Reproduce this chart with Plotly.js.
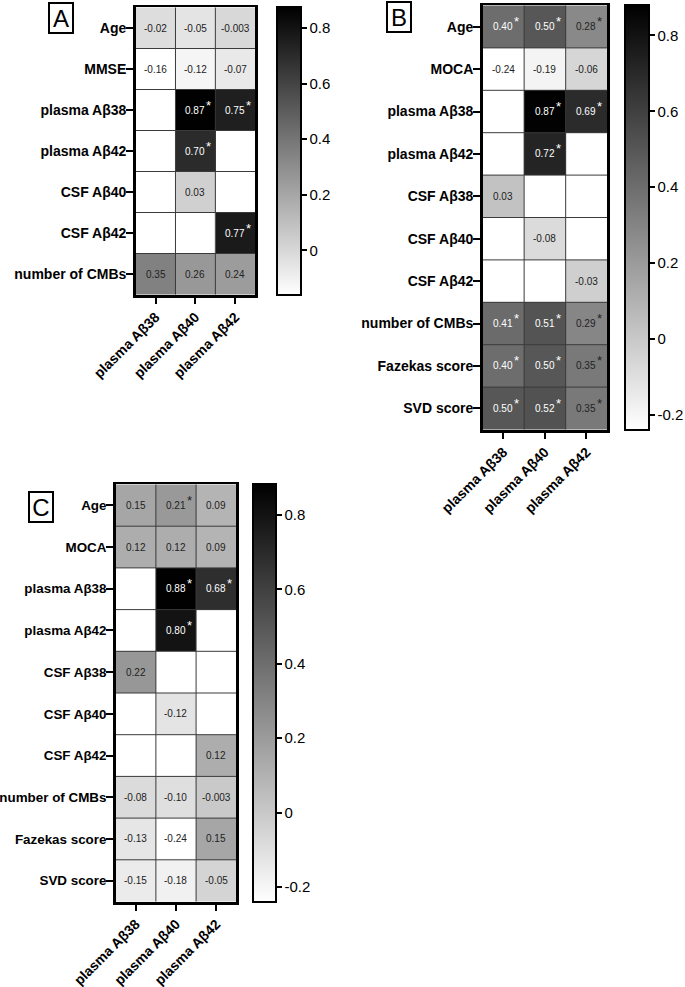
<!DOCTYPE html>
<html>
<head>
<meta charset="utf-8">
<script src="https://cdn.plot.ly/plotly-3.0.1.min.js"></script>
<style>html,body{margin:0;padding:0;background:#fff;}#chart{width:685px;height:987px;}</style>
</head>
<body>
<div id="chart"></div>
<script>
// ---------- data ----------
const columns = ["plasma Aβ38", "plasma Aβ40", "plasma Aβ42"];

const rowsA = ["Age", "MMSE", "plasma Aβ38", "plasma Aβ42", "CSF Aβ40", "CSF Aβ42", "number of CMBs"];
const valuesA = [
  [-0.02, -0.05, -0.003],
  [-0.16, -0.12, -0.07],
  [null, 0.87, 0.75],
  [null, 0.70, null],
  [null, 0.03, null],
  [null, null, 0.77],
  [0.35, 0.26, 0.24]
];
const sigA = [
  [0, 0, 0],
  [0, 0, 0],
  [0, 1, 1],
  [0, 1, 0],
  [0, 0, 0],
  [0, 0, 1],
  [0, 0, 0]
];

const rowsB = ["Age", "MOCA", "plasma Aβ38", "plasma Aβ42", "CSF Aβ38", "CSF Aβ40", "CSF Aβ42", "number of CMBs", "Fazekas score", "SVD score"];
const valuesB = [
  [0.40, 0.50, 0.28],
  [-0.24, -0.19, -0.06],
  [null, 0.87, 0.69],
  [null, 0.72, null],
  [0.03, null, null],
  [null, -0.08, null],
  [null, null, -0.03],
  [0.41, 0.51, 0.29],
  [0.40, 0.50, 0.35],
  [0.50, 0.52, 0.35]
];
const sigB = [
  [1, 1, 1],
  [0, 0, 0],
  [0, 1, 1],
  [0, 1, 0],
  [0, 0, 0],
  [0, 0, 0],
  [0, 0, 0],
  [1, 1, 1],
  [1, 1, 1],
  [1, 1, 1]
];

const rowsC = ["Age", "MOCA", "plasma Aβ38", "plasma Aβ42", "CSF Aβ38", "CSF Aβ40", "CSF Aβ42", "number of CMBs", "Fazekas score", "SVD score"];
const valuesC = [
  [0.15, 0.21, 0.09],
  [0.12, 0.12, 0.09],
  [null, 0.88, 0.68],
  [null, 0.80, null],
  [0.22, null, null],
  [null, -0.12, null],
  [null, null, 0.12],
  [-0.08, -0.10, -0.003],
  [-0.13, -0.24, 0.15],
  [-0.15, -0.18, -0.05]
];
const sigC = [
  [0, 1, 0],
  [0, 0, 0],
  [0, 1, 1],
  [0, 1, 0],
  [0, 0, 0],
  [0, 0, 0],
  [0, 0, 0],
  [0, 0, 0],
  [0, 0, 0],
  [0, 0, 0]
];

const colorTicks = [-0.2, 0, 0.2, 0.4, 0.6, 0.8];
const colorTickText = ["-0.2", "0", "0.2", "0.4", "0.6", "0.8"];

// ---------- layout helpers ----------
const W = 685, H = 987;
const px = v => v / W;
const py = v => 1 - v / H;
const FONT = "Arial, 'Liberation Sans', sans-serif";

const panels = [
  {rows: rowsA, vals: valuesA, sig: sigA, zmin: -0.16, zmax: 0.875, yfs: 14,
   x0: 136, x1: 256, y0: 7, y1: 295, cbx: 278, cbth: 24, label: "A", lx: 61.5, ly: 18},
  {rows: rowsB, vals: valuesB, sig: sigB, zmin: -0.24, zmax: 0.88, yfs: 14,
   x0: 484, x1: 609, y0: 5, y1: 430, cbx: 627, cbth: 24, label: "B", lx: 400.5, ly: 17.5},
  {rows: rowsC, vals: valuesC, sig: sigC, zmin: -0.24, zmax: 0.883, yfs: 13.4,
   x0: 116, x1: 237, y0: 484, y1: 902, cbx: 254, cbth: 23, label: "C", lx: 41, ly: 507}
];

function fmt(v) {
  if (Math.abs(v) < 0.01 && v !== 0) return v.toFixed(3);
  return v.toFixed(2);
}

const traces = [];
const shapes = [];
const annotations = [];
const layout = {
  width: W, height: H,
  margin: {l: 0, r: 0, t: 0, b: 0},
  paper_bgcolor: "#ffffff",
  plot_bgcolor: "#ffffff",
  showlegend: false,
  font: {family: FONT, color: "#000"}
};

panels.forEach((p, i) => {
  const s = i === 0 ? "" : String(i + 1);
  const xa = "x" + s, ya = "y" + s;
  traces.push({
    type: "heatmap",
    x: columns, y: p.rows, z: p.vals,
    xaxis: xa, yaxis: ya,
    zmin: p.zmin, zmax: p.zmax,
    colorscale: [[0, "#ffffff"], [1, "#000000"]],
    hoverongaps: false,
    showscale: true,
    colorbar: {
      x: px(p.cbx), xanchor: "left", xpad: 0,
      y: py(p.y0), yanchor: "top", ypad: 0,
      len: (p.y1 - p.y0) / H, lenmode: "fraction",
      thickness: p.cbth, thicknessmode: "pixels",
      outlinewidth: 2, outlinecolor: "#000",
      tickvals: colorTicks, ticktext: colorTickText,
      ticks: "outside", ticklen: 5, tickwidth: 2, tickcolor: "#000",
      tickfont: {size: 15, family: FONT, color: "#000"}
    }
  });
  layout["xaxis" + s] = {
    domain: [px(p.x0), px(p.x1)], anchor: ya,
    type: "category", range: [-0.5, columns.length - 0.5],
    showline: true, mirror: true, linewidth: 2.5, linecolor: "#000",
    ticks: "outside", ticklen: 6, tickwidth: 2, tickcolor: "#000",
    tickangle: -45, showgrid: false, zeroline: false, fixedrange: true,
    tickfont: {size: 14, family: FONT, color: "#000", weight: "bold"}
  };
  layout["yaxis" + s] = {
    domain: [py(p.y1), py(p.y0)], anchor: xa,
    type: "category", autorange: "reversed",
    showline: true, mirror: true, linewidth: 2.5, linecolor: "#000",
    ticks: "outside", ticklen: 7, tickwidth: 2, tickcolor: "#000",
    ticklabelstandoff: -3,
    showgrid: false, zeroline: false, fixedrange: true,
    tickfont: {size: p.yfs, family: FONT, color: "#000", weight: "bold"}
  };
  // cell grid lines
  for (let c = 1; c < columns.length; c++) {
    shapes.push({type: "line", xref: xa, yref: ya, x0: c - 0.5, x1: c - 0.5,
      y0: -0.5, y1: p.rows.length - 0.5, line: {color: "#3a3a3a", width: 1}, layer: "above"});
  }
  for (let r = 1; r < p.rows.length; r++) {
    shapes.push({type: "line", xref: xa, yref: ya, x0: -0.5, x1: columns.length - 0.5,
      y0: r - 0.5, y1: r - 0.5, line: {color: "#3a3a3a", width: 1}, layer: "above"});
  }
  // cell value labels
  p.vals.forEach((row, r) => {
    row.forEach((v, c) => {
      if (v === null) return;
      const col = v >= 0.4 ? "#ffffff" : "#222222";
      const t = fmt(v);
      annotations.push({
        xref: xa, yref: ya, x: columns[c], y: p.rows[r],
        text: t, showarrow: false,
        font: {size: 10, family: FONT, color: col}
      });
      if (p.sig[r][c]) {
        annotations.push({
          xref: xa, yref: ya, x: columns[c], y: p.rows[r],
          text: "*", showarrow: false,
          xshift: t.length * 2.8 + 2, yshift: 5,
          font: {size: 13, family: FONT, color: col}
        });
      }
    });
  });
  // panel letter box
  annotations.push({
    xref: "paper", yref: "paper", x: px(p.lx), y: py(p.ly),
    xanchor: "center", yanchor: "middle",
    text: p.label, showarrow: false,
    font: {size: 24, family: FONT, color: "#000"},
    bordercolor: "#000", borderwidth: 2, borderpad: 1,
    width: 20, height: 26
  });
});

layout.shapes = shapes;
layout.annotations = annotations;

Plotly.newPlot("chart", traces, layout, {displayModeBar: false, staticPlot: true});
</script>
</body>
</html>
